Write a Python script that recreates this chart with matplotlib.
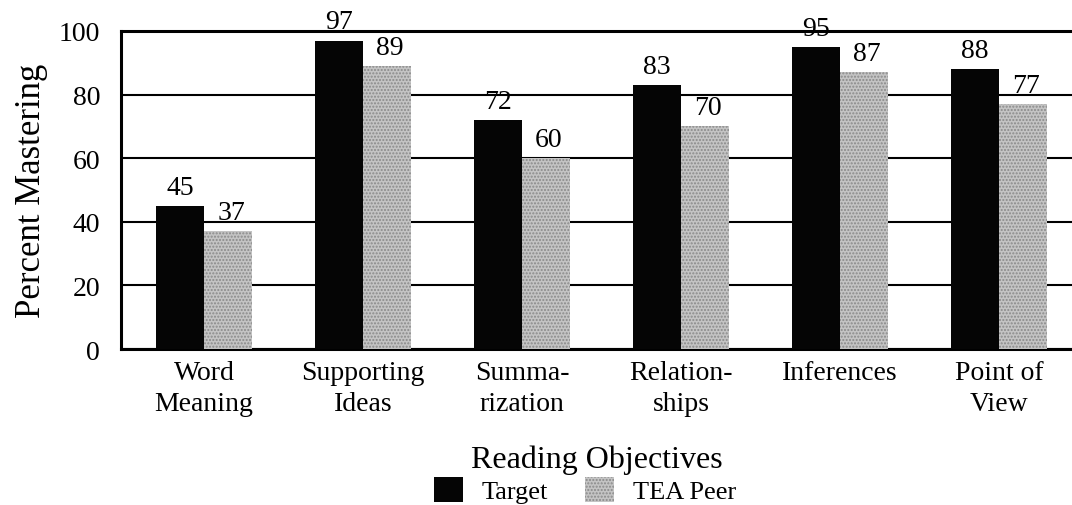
import matplotlib
matplotlib.use("Agg")
import matplotlib.pyplot as plt
import numpy as np
from matplotlib.patches import Patch

categories = ["Word\nMeaning", "Supporting\nIdeas", "Summa-\nrization", "Relation-\nships", "Inferences", "Point of\nView"]
target = [45, 97, 72, 83, 95, 88]
peer = [37, 89, 60, 70, 87, 77]
series_names = ["Target", "TEA Peer"]
yticks = [0, 20, 40, 60, 80, 100]

plt.rcParams['font.family'] = ['Liberation Serif', 'DejaVu Serif']
plt.rcParams['hatch.linewidth'] = 1.0

fig = plt.figure(figsize=(10.72, 5.06), dpi=100)
ax = fig.add_axes([121/1072, 1-350/506, 1-121/1072, (350-32)/506])

x = np.arange(len(categories))
w = 0.30
dark = "#050505"
light = "#c4c4c4"
b1 = ax.bar(x - w/2, target, w, color=dark, zorder=3)
b2 = ax.bar(x + w/2, peer, w, facecolor=light, edgecolor='#8a8a8a', hatch='.....', linewidth=0, zorder=3)

for xi, v in zip(x, target):
    ax.text(xi - w/2, v + 2.0, str(v), ha='center', va='bottom', fontsize=20, zorder=2)
for xi, v in zip(x, peer):
    ax.text(xi + w/2 + 0.02, v + 2.0, str(v), ha='center', va='bottom', fontsize=20, zorder=4)

ax.set_ylim(0, 100)
ax.set_xlim(-0.522, 5.459)
ax.set_yticks(yticks)
ax.set_yticklabels([str(t) for t in yticks], fontsize=20)
ax.set_xticks(x)
ax.set_xticklabels(categories, fontsize=20, linespacing=1.3)
ax.tick_params(axis='both', length=0)
ax.tick_params(axis='x', pad=8)
ax.tick_params(axis='y', pad=15)
ax.yaxis.grid(True, color='black', linewidth=1.5, zorder=0)
ax.set_axisbelow(True)
ax.spines['right'].set_visible(False)
for s in ['left', 'bottom', 'top']:
    ax.spines[s].set_linewidth(2.2)

ax.set_ylabel("Percent Mastering", fontsize=25, labelpad=8)
ax.set_xlabel("Reading Objectives", fontsize=23, labelpad=21)

handles = [Patch(facecolor=dark), Patch(facecolor=light, edgecolor='#8a8a8a', hatch='.....', linewidth=0)]
fig.legend(handles, series_names, loc='center', bbox_to_anchor=(585/1072, 1-491/506),
           ncol=2, frameon=False, fontsize=19, handlelength=1.1, handleheight=1.1,
           columnspacing=1.4, handletextpad=0.7, borderaxespad=0, borderpad=0)

fig.savefig("out.png", dpi=100)
